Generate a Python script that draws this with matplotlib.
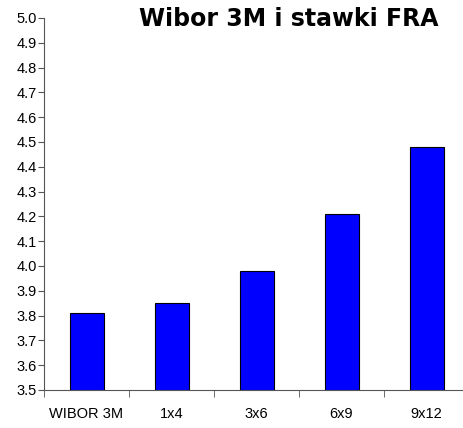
import matplotlib
matplotlib.use("Agg")
import matplotlib.pyplot as plt
import numpy as np

# data
categories = ["WIBOR 3M", "1x4", "3x6", "6x9", "9x12"]
rates = [3.81, 3.85, 3.98, 4.21, 4.48]
y_ticks = [3.5, 3.6, 3.7, 3.8, 3.9, 4.0, 4.1, 4.2, 4.3, 4.4, 4.5, 4.6, 4.7, 4.8, 4.9, 5.0]

plt.rcParams['font.family'] = ['Liberation Sans', 'DejaVu Sans']

fig = plt.figure(figsize=(4.64, 4.28), dpi=100)
ax = fig.add_axes([44/464, 38/428, 425/464, 372/428])

x = np.arange(len(categories))
ax.bar(x, rates, width=0.4, color='#0000FF', edgecolor='black', linewidth=0.8)

ax.set_ylim(3.5, 5.0)
ax.set_xlim(-0.5, len(categories) - 0.5)
ax.set_yticks(y_ticks)
ax.set_yticklabels([f"{v:.1f}" for v in y_ticks], fontsize=10.5)

ax.set_xticks(x)
ax.set_xticklabels(categories, fontsize=10.5)
ax.tick_params(axis='x', length=0, pad=12)
ax.set_xticks(np.arange(len(categories)) - 0.5, minor=True)
ax.tick_params(axis='x', which='minor', length=5, direction='out', color='#555555')
ax.tick_params(axis='y', length=4, direction='out', color='#555555', pad=1)

for side in ['top', 'right']:
    ax.spines[side].set_visible(False)
ax.spines['left'].set_color('#555555')
ax.spines['bottom'].set_color('#555555')

fig.text(289/464, 1 - 19/428, "Wibor 3M i stawki FRA", ha='center', va='center',
         fontsize=17, fontweight='heavy', family='DejaVu Sans')

fig.savefig("out.png", dpi=100)
